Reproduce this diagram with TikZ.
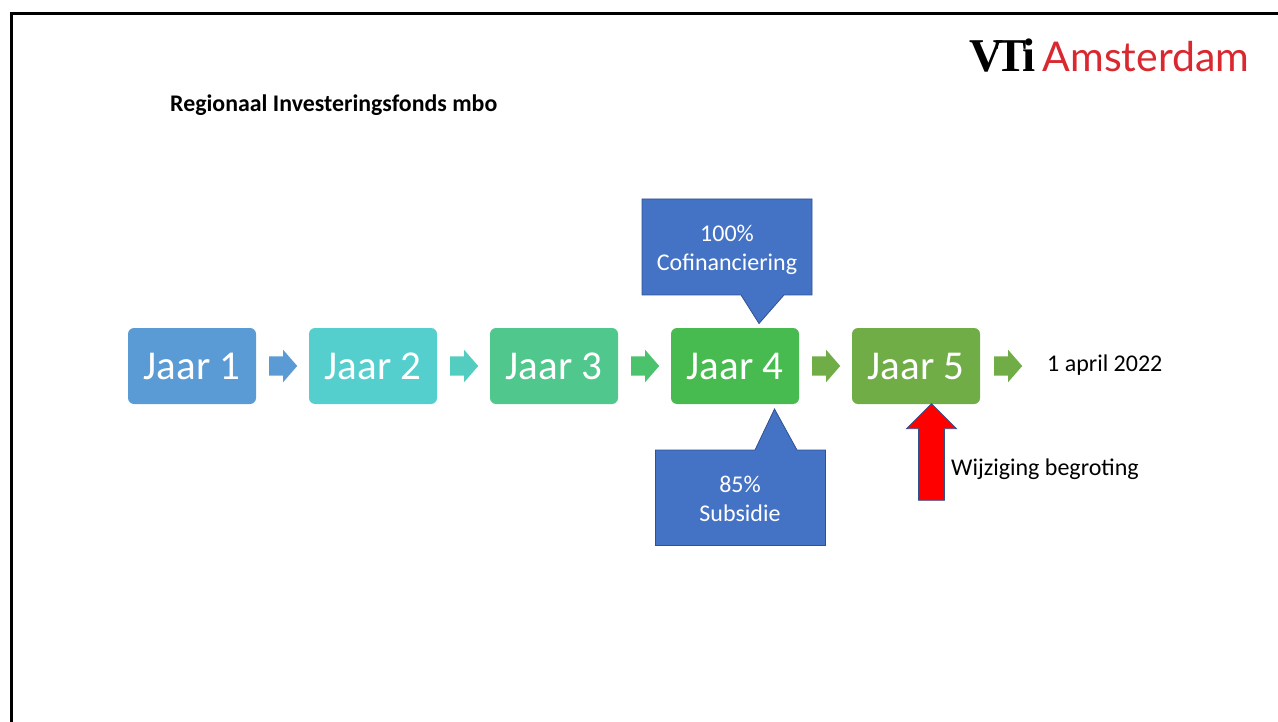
\documentclass[tikz,border=0pt]{standalone}
\usepackage{fontspec}
\setmainfont{Carlito}
\newfontfamily\logoserif{Liberation Serif}
\newfontfamily\logosans{Lato}
\usetikzlibrary{shapes.arrows}

\definecolor{jaarA}{HTML}{5B9BD5}
\definecolor{jaarB}{HTML}{55CFCE}
\definecolor{jaarC}{HTML}{50C78D}
\definecolor{jaarD}{HTML}{47BB4F}
\definecolor{jaarE}{HTML}{70AD47}
\definecolor{pijlB}{HTML}{53CDC0}
\definecolor{pijlC}{HTML}{4BC36D}
\definecolor{ballon}{HTML}{4472C4}
\definecolor{ballonrand}{HTML}{2F528F}
\definecolor{logorood}{HTML}{D9282F}

\tikzset{
  jaar/.style={rectangle, rounded corners=6pt, minimum width=128pt, minimum height=76pt,
    inner sep=0pt, text=white, font=\fontsize{41}{45}\selectfont},
  pijl/.style={single arrow, minimum height=28pt, minimum width=32pt, inner xsep=0pt, inner ysep=9.5pt,
    single arrow head extend=6.5pt, single arrow tip angle=98},
  ballonvorm/.style={fill=ballon, draw=ballonrand, line width=0.8pt},
  ballontekst/.style={inner sep=0pt, text=white, align=center, font=\fontsize{24}{29}\selectfont},
  tekst/.style={inner sep=0pt, font=\fontsize{24}{29}\selectfont}
}

\begin{document}
\begin{tikzpicture}[x=1pt, y=-1pt]
   \useasboundingbox (0,0) rectangle (1278,722);

   \draw [line width=3pt] (11,722) |- (1278,14);

   \node [tekst, font=\fontsize{23.85}{29}\selectfont\bfseries, anchor=west] (titel) at (170,105) {Regionaal Investeringsfonds mbo};
   \node [inner sep=0pt, anchor=base west, font=\fontsize{47}{50}\logoserif\bfseries] (vti) at (969,72) {V\kern-8pt T\kern-4.5pt i};
   \node [inner sep=0pt, anchor=base east, text=logorood, font=\fontsize{41}{50}\logosans] (amsterdam) at (1249.5,72) {Amsterdam};

   \foreach \i/\x/\c in {1/192/jaarA, 2/373/jaarB, 3/554/jaarC, 4/735/jaarD, 5/916/jaarE}
     \node [jaar, fill=\c] (j\i) at (\x,366) {Jaar \i};

   \foreach \i/\x/\c in {1/279/jaarA, 2/460/pijlB, 3/641/pijlC, 4/822/jaarE, 5/1004/jaarE}
     \node [pijl, fill=\c] (p\i) at (\x,366) {};

   \node [tekst, anchor=west] (datum) at (1047,365) {1 april 2022};

   \draw [ballonvorm] (642,199) -- (812,199) -- (812,295) -- (784,295) -- (759,323.5) -- (741,295) -- (642,295) -- cycle;
   \node [ballontekst] (cofin) at (727,249.5) {100\%\\Cofinanciering};

   \draw [ballonvorm] (655.5,450) -- (755,450) -- (774.5,409) -- (797,450) -- (825.5,450) -- (825.5,545.5) -- (655.5,545.5) -- cycle;
   \node [ballontekst] (subsidie) at (740,499) {85\%\\Subsidie};

   \node [single arrow, shape border rotate=90, fill=red, draw=ballonrand, line width=0.8pt, inner sep=12.5pt,
      minimum height=96.5pt, minimum width=49pt, single arrow head extend=12pt, single arrow tip angle=90]
      (wijzpijl) at (931.5,458.5) {};
   \node [tekst, anchor=west] (wijz) at (951,469) {Wijziging begroting};
\end{tikzpicture}
\end{document}
